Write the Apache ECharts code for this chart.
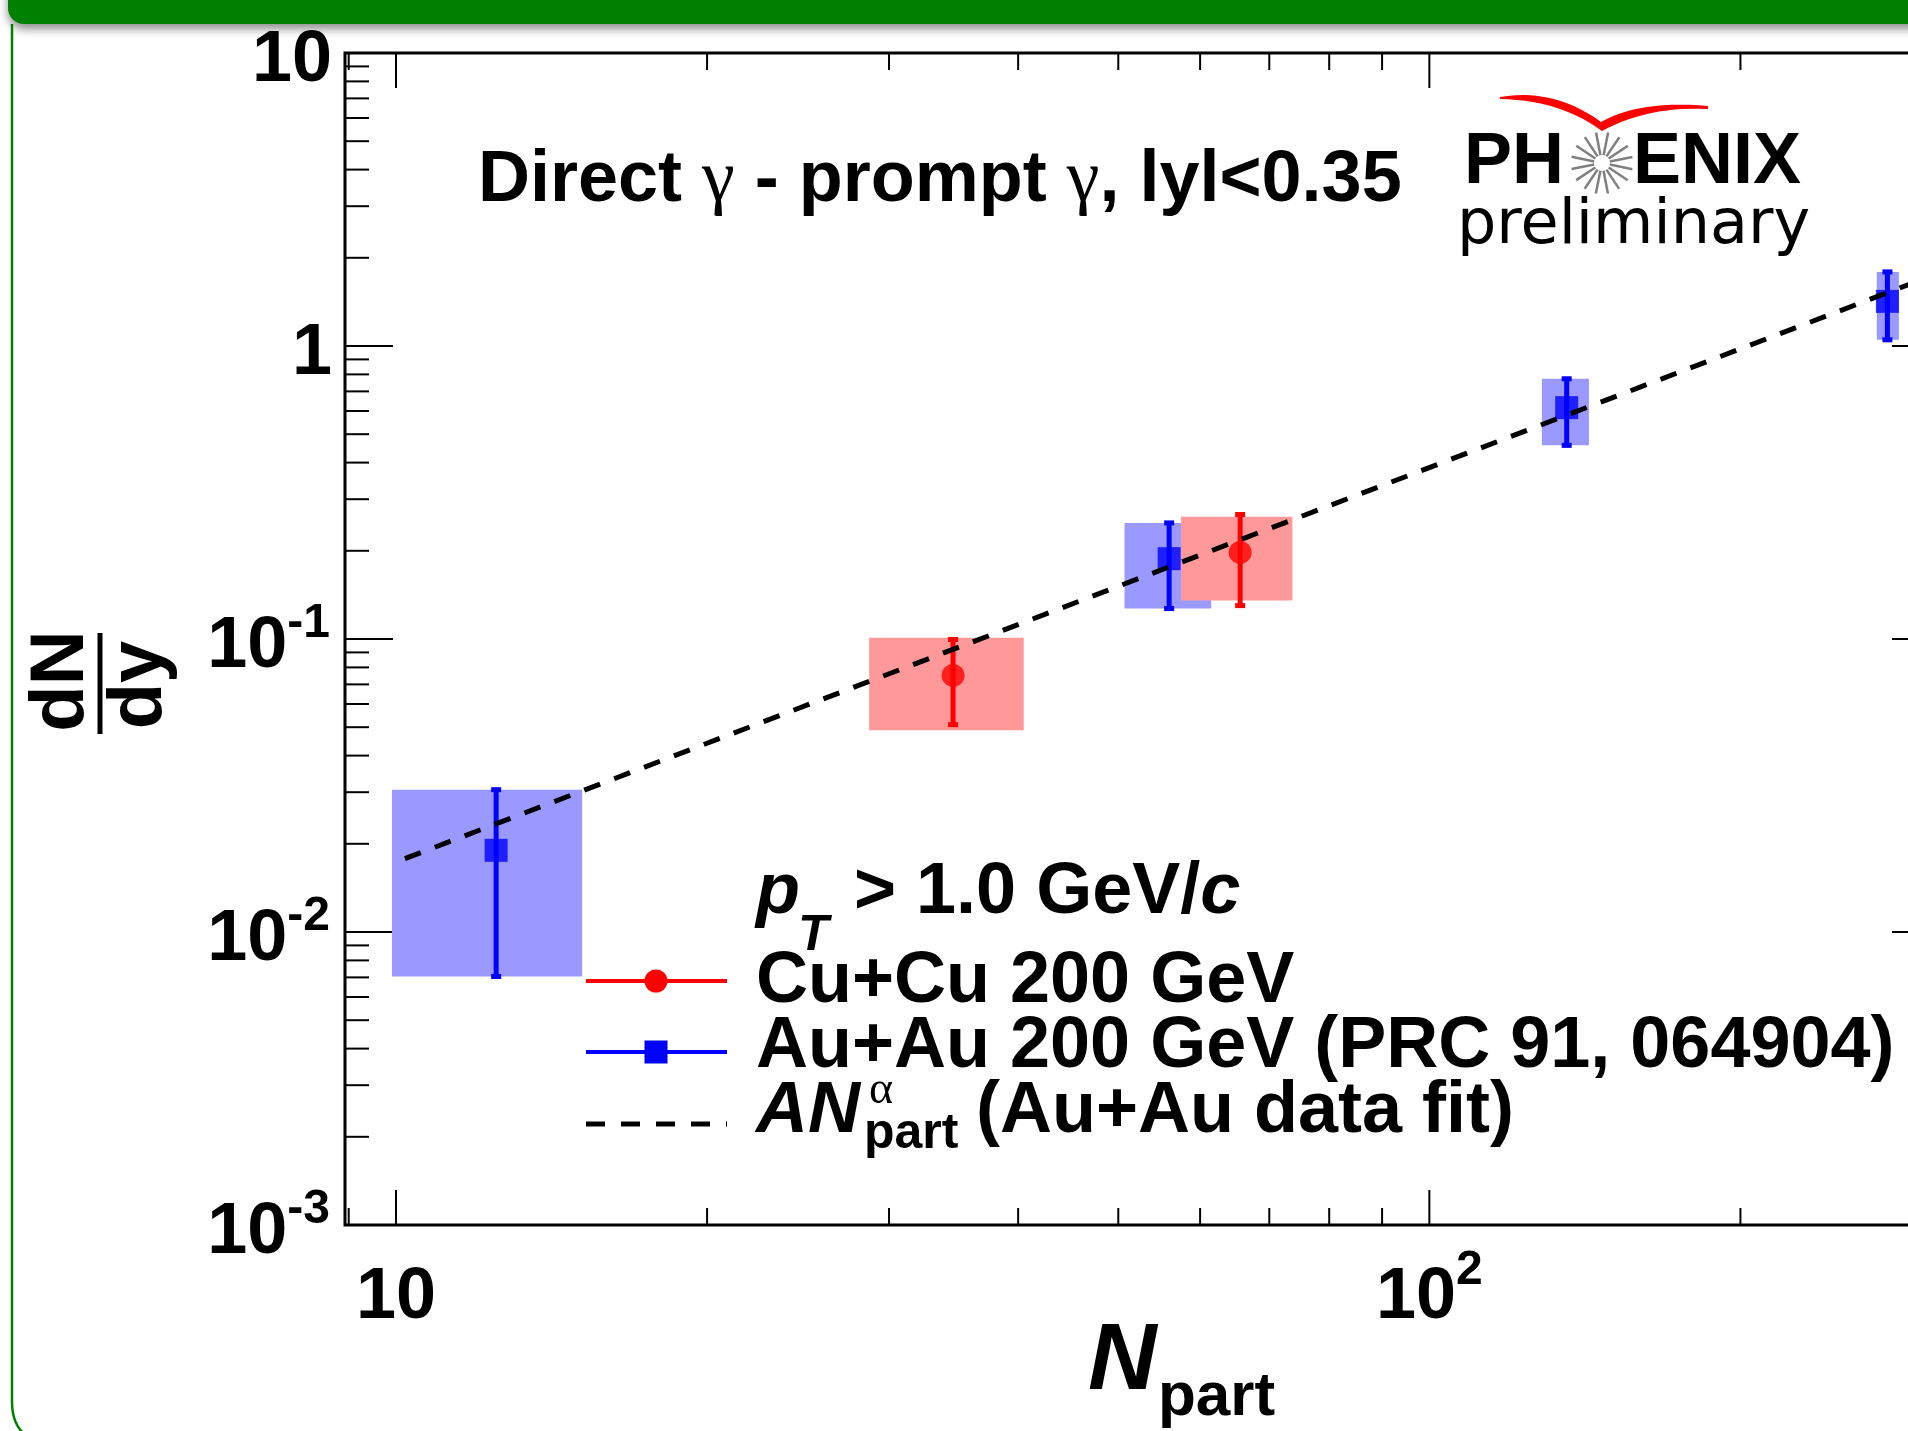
<!DOCTYPE html>
<html>
<head>
<meta charset="utf-8">
<style>
  html, body { margin: 0; padding: 0; background: #fff; overflow: hidden; }
  #chart { width: 1960px; height: 1431px; }
</style>
<script src="https://cdn.jsdelivr.net/npm/echarts@6/dist/echarts.min.js"></script>
</head>
<body>
<div id="chart"></div>
<script>
// Au+Au 200 GeV (PRC 91, 064904)
const auNpart = [12.5, 56.0, 135.8, 277.5]
const auYield = [0.0190, 0.188, 0.616, 1.42]
const auStatLo = [0.00705, 0.127, 0.458, 1.05]
const auStatHi = [0.0306, 0.249, 0.773, 1.79]
const auSysLo = [0.00705, 0.127, 0.458, 1.05]
const auSysHi = [0.0306, 0.249, 0.773, 1.79]
const auBoxLeft = [9.91, 50.7, 128.5, 271]
const auBoxRight = [15.14, 61.5, 142.7, 284.7]

// Cu+Cu 200 GeV
const cuNpart = [34.6, 65.6]
const cuYield = [0.0751, 0.1975]
const cuStatLo = [0.051, 0.130]
const cuStatHi = [0.0996, 0.266]
const cuSysLo = [0.0488, 0.1354]
const cuSysHi = [0.101, 0.2615]
const cuBoxLeft = [28.7, 57.5]
const cuBoxRight = [40.5, 73.7]

// A * Npart^alpha, fit to the Au+Au points
const fitNpart = [10.2, 312]
const fitYield = [0.0178, 1.78]

// axes
const xRange = [8.926, 312]
const yRange = [0.001, 10]
const xMajorTicks = [10, 100]
const xMajorLabels = [['10', ''], ['10', '2']]
const xMinorTicks = [9, 20, 30, 40, 50, 60, 70, 80, 90, 200, 300]
const yMajorTicks = [0.001, 0.01, 0.1, 1, 10]
const yMajorLabels = [['10', '-3'], ['10', '-2'], ['10', '-1'], ['1', ''], ['10', '']]
const yMinorSteps = [2, 3, 4, 5, 6, 7, 8, 9]

const SANS = "'Liberation Sans', Arial, Helvetica, sans-serif"
const SERIF = "'Liberation Serif', 'Times New Roman', serif"
const DEJAVU = "'DejaVu Sans', sans-serif"

const yMinorTicks = []
yMajorTicks.slice(0, -1).forEach(d => yMinorSteps.forEach(s => yMinorTicks.push(d * s)))

// text pieces laid out one after another on a shared baseline
const measureCtx = document.createElement('canvas').getContext('2d')
const fontOf = p => `${p.italic ? 'italic ' : ''}${p.bold === false ? 'normal' : 'bold'} ${p.size}px ${p.family || SANS}`
const runWidth = pieces => pieces.reduce((w, p) => { measureCtx.font = fontOf(p); return w + measureCtx.measureText(p.t).width }, 0)
function textRun(x, baseline, pieces) {
  const out = []
  let cx = x
  pieces.forEach(p => {
    const font = fontOf(p)
    measureCtx.font = font
    out.push({
      type: 'text', x: cx, y: baseline + (p.dy || 0) - 0.35 * p.size, silent: true,
      style: { text: p.t, font, fill: p.color || '#000', align: 'left', verticalAlign: 'middle' }
    })
    cx += measureCtx.measureText(p.t).width
  })
  return out
}

// quadratic bezier sampled into points (for the logo swoosh)
function quad(p0, c, p1, n) {
  const pts = []
  for (let i = 0; i <= n; i++) {
    const t = i / n, u = 1 - t
    pts.push([u * u * p0[0] + 2 * u * t * c[0] + t * t * p1[0], u * u * p0[1] + 2 * u * t * c[1] + t * t * p1[1]])
  }
  return pts
}

function axisFrameItem(params, api) {
  const kids = []
  const tick = (x1, y1, x2, y2) => kids.push({ type: 'line', shape: { x1, y1, x2, y2 }, style: { stroke: '#000', lineWidth: 2 } })
  const xTicks = (vals, len) => vals.forEach(v => {
    const b = api.coord([v, yRange[0]])
    const t = api.coord([v, yRange[1]])
    tick(b[0], b[1], b[0], b[1] - len)
    tick(t[0], t[1], t[0], t[1] + len)
  })
  const yTicks = (vals, len) => vals.forEach(v => {
    const l = api.coord([xRange[0], v])
    const r = api.coord([xRange[1], v])
    tick(l[0], l[1], l[0] + len, l[1])
    tick(r[0], r[1], r[0] - len, r[1])
  })
  xTicks(xMajorTicks, 35)
  xTicks(xMinorTicks, 17)
  yTicks(yMajorTicks, 48)
  yTicks(yMinorTicks, 24)

  xMajorTicks.forEach((v, i) => {
    const [main, sup] = xMajorLabels[i]
    const pieces = [{ t: main, size: 72 }]
    if (sup) pieces.push({ t: sup, size: 48, dy: -35 })
    const p = api.coord([v, yRange[0]])
    kids.push(...textRun(p[0] - runWidth(pieces) / 2, p[1] + 98, pieces))
  })
  yMajorTicks.forEach((v, i) => {
    const [main, sup] = yMajorLabels[i]
    const pieces = [{ t: main, size: 72 }]
    if (sup) pieces.push({ t: sup, size: 48, dy: -31 })
    const p = api.coord([xRange[0], v])
    kids.push(...textRun((sup ? 330 : 332) - runWidth(pieces), p[1] + 33, pieces))
  })
  return { type: 'group', children: kids }
}

function boxItem(fill) {
  return (params, api) => {
    const a = api.coord([api.value(0), api.value(3)])
    const b = api.coord([api.value(1), api.value(2)])
    return { type: 'rect', shape: { x: a[0], y: a[1], width: b[0] - a[0], height: b[1] - a[1] }, style: { fill } }
  }
}

function errorItem(color) {
  return (params, api) => {
    const n = api.value(0)
    const lo = api.coord([n, api.value(1)])
    const hi = api.coord([n, api.value(2)])
    const st = { stroke: color, lineWidth: 5 }
    return {
      type: 'group', children: [
        { type: 'line', shape: { x1: lo[0], y1: lo[1], x2: hi[0], y2: hi[1] }, style: st },
        { type: 'line', shape: { x1: lo[0] - 5, y1: lo[1], x2: lo[0] + 5, y2: lo[1] }, style: st },
        { type: 'line', shape: { x1: hi[0] - 5, y1: hi[1], x2: hi[0] + 5, y2: hi[1] }, style: st }
      ]
    }
  }
}

const auBoxes = auNpart.map((n, i) => [auBoxLeft[i], auBoxRight[i], auSysLo[i], auSysHi[i]])
const cuBoxes = cuNpart.map((n, i) => [cuBoxLeft[i], cuBoxRight[i], cuSysLo[i], cuSysHi[i]])
const auErrors = auNpart.map((n, i) => [n, auStatLo[i], auStatHi[i]])
const cuErrors = cuNpart.map((n, i) => [n, cuStatLo[i], cuStatHi[i]])
const auPoints = auNpart.map((n, i) => [n, auYield[i]])
const cuPoints = cuNpart.map((n, i) => [n, cuYield[i]])
const fitPoints = fitNpart.map((n, i) => [n, fitYield[i]])

// decorations: slide frame, labels, legend, logo
const graphics = []
graphics.push({
  type: 'rect', silent: true, shape: { x: 8, y: -30, width: 1990, height: 54, r: 16 },
  style: { fill: '#008000', shadowColor: 'rgba(0,0,0,0.45)', shadowBlur: 10, shadowOffsetY: 5 }
})
graphics.push({
  type: 'polyline', silent: true,
  shape: { points: [[12, 24], [12, 1402]].concat(quad([12, 1402], [12, 1436], [44, 1444], 12)) },
  style: { fill: null, stroke: '#008000', lineWidth: 2.5 }
})

// title inside the frame
graphics.push(...textRun(478, 206, [
  { t: 'Direct ', size: 72 },
  { t: 'γ', size: 74, bold: false, family: SERIF },
  { t: ' - prompt ', size: 72 },
  { t: 'γ', size: 74, bold: false, family: SERIF },
  { t: ', lyl<0.35', size: 72 }
]))

// axis titles
graphics.push({ type: 'text', x: 62, y: 681, rotation: Math.PI / 2, silent: true, style: { text: 'dN', font: fontOf({ size: 76 }), fill: '#000', align: 'center', verticalAlign: 'middle' } })
graphics.push({ type: 'text', x: 140, y: 685, rotation: Math.PI / 2, silent: true, style: { text: 'dy', font: fontOf({ size: 76 }), fill: '#000', align: 'center', verticalAlign: 'middle' } })
graphics.push({ type: 'line', silent: true, shape: { x1: 100, y1: 633, x2: 100, y2: 734 }, style: { stroke: '#000', lineWidth: 5 } })
graphics.push(...textRun(1088, 1396, [{ t: 'N', size: 95, italic: true }]))
graphics.push(...textRun(1158, 1420, [{ t: 'part', size: 62 }]))

// legend
graphics.push(...textRun(756, 918, [{ t: 'p', size: 72, italic: true }]))
graphics.push(...textRun(798, 954, [{ t: 'T', size: 50, italic: true }]))
graphics.push(...textRun(834, 918, [{ t: ' > 1.0 GeV/', size: 72 }, { t: 'c', size: 72, italic: true }]))
graphics.push({ type: 'line', silent: true, shape: { x1: 586, y1: 981, x2: 727, y2: 981 }, style: { stroke: '#ff0000', lineWidth: 4 } })
graphics.push({ type: 'circle', silent: true, shape: { cx: 656, cy: 981, r: 11.5 }, style: { fill: '#ff0000' } })
graphics.push(...textRun(756, 1007, [{ t: 'Cu+Cu 200 GeV', size: 72 }]))
graphics.push({ type: 'line', silent: true, shape: { x1: 586, y1: 1052, x2: 727, y2: 1052 }, style: { stroke: '#0000ff', lineWidth: 4 } })
graphics.push({ type: 'rect', silent: true, shape: { x: 644.5, y: 1040.5, width: 23, height: 23 }, style: { fill: '#0000ff' } })
graphics.push(...textRun(756, 1072, [{ t: 'Au+Au 200 GeV (PRC 91, 064904)', size: 72 }]))
graphics.push({ type: 'line', silent: true, shape: { x1: 586, y1: 1124, x2: 727, y2: 1124 }, style: { stroke: '#000', lineWidth: 5, lineDash: [19, 16] } })
graphics.push(...textRun(756, 1137, [{ t: 'AN', size: 72, italic: true }]))
graphics.push(...textRun(869, 1107, [{ t: 'α', size: 46, bold: false, family: SERIF }]))
graphics.push(...textRun(864, 1152, [{ t: 'part', size: 50 }]))
graphics.push(...textRun(976, 1137, [{ t: '(Au+Au data fit)', size: 72 }]))

// PHENIX preliminary logo
graphics.push(...textRun(1464, 188, [{ t: 'PH', size: 72 }]))
graphics.push(...textRun(1633, 188, [{ t: 'ENIX', size: 72 }]))
for (let k = 0; k < 16; k++) {
  const a = k * Math.PI / 8 + 0.2
  graphics.push({
    type: 'line', silent: true,
    shape: { x1: 1602 + 8 * Math.cos(a), y1: 163 + 8 * Math.sin(a), x2: 1602 + 31 * Math.cos(a), y2: 163 + 31 * Math.sin(a) },
    style: { stroke: '#808080', lineWidth: 2.5 }
  })
}
const swoosh = []
  .concat(quad([1500, 97], [1555, 88], [1601, 122], 14))
  .concat(quad([1601, 122], [1640, 100], [1708, 106], 14))
  .concat(quad([1708, 109], [1648, 106], [1602, 131], 14))
  .concat(quad([1602, 131], [1560, 100], [1500, 99], 14))
graphics.push({ type: 'polygon', silent: true, shape: { points: swoosh }, style: { fill: '#ff0000' } })
graphics.push(...textRun(1457, 249, [{ t: 'preliminary', size: 62, bold: false, family: DEJAVU }]))

const chart = echarts.init(document.getElementById('chart'))
chart.setOption({
  animation: false,
  backgroundColor: '#fff',
  grid: { left: 345, top: 53, right: 20, bottom: 206, show: true, borderColor: '#000', borderWidth: 3, backgroundColor: 'transparent' },
  xAxis: {
    type: 'log', logBase: 10, min: xRange[0], max: xRange[1],
    axisLine: { show: false }, axisTick: { show: false }, axisLabel: { show: false }, splitLine: { show: false }
  },
  yAxis: {
    type: 'log', logBase: 10, min: yRange[0], max: yRange[1],
    axisLine: { show: false }, axisTick: { show: false }, axisLabel: { show: false }, splitLine: { show: false }
  },
  graphic: { elements: graphics },
  series: [
    { type: 'custom', name: 'axes', silent: true, clip: false, renderItem: axisFrameItem, data: [[xRange[0], yRange[0]]] },
    { type: 'custom', name: 'Au+Au sys', silent: true, renderItem: boxItem('#9999ff'), encode: { x: [0, 1], y: [2, 3] }, data: auBoxes },
    { type: 'custom', name: 'Cu+Cu sys', silent: true, renderItem: boxItem('#ff9999'), encode: { x: [0, 1], y: [2, 3] }, data: cuBoxes },
    { type: 'custom', name: 'Au+Au stat', silent: true, renderItem: errorItem('#0000ff'), encode: { x: 0, y: [1, 2] }, data: auErrors },
    { type: 'custom', name: 'Cu+Cu stat', silent: true, renderItem: errorItem('#ff0000'), encode: { x: 0, y: [1, 2] }, data: cuErrors },
    { type: 'scatter', name: 'Au+Au 200 GeV', symbol: 'rect', symbolSize: 23, itemStyle: { color: '#0000ff' }, data: auPoints },
    { type: 'scatter', name: 'Cu+Cu 200 GeV', symbol: 'circle', symbolSize: 23, itemStyle: { color: '#ff0000' }, data: cuPoints },
    { type: 'line', name: 'fit', showSymbol: false, symbol: 'none', lineStyle: { color: '#000', width: 5, type: [17, 15] }, data: fitPoints }
  ]
})
</script>
</body>
</html>
